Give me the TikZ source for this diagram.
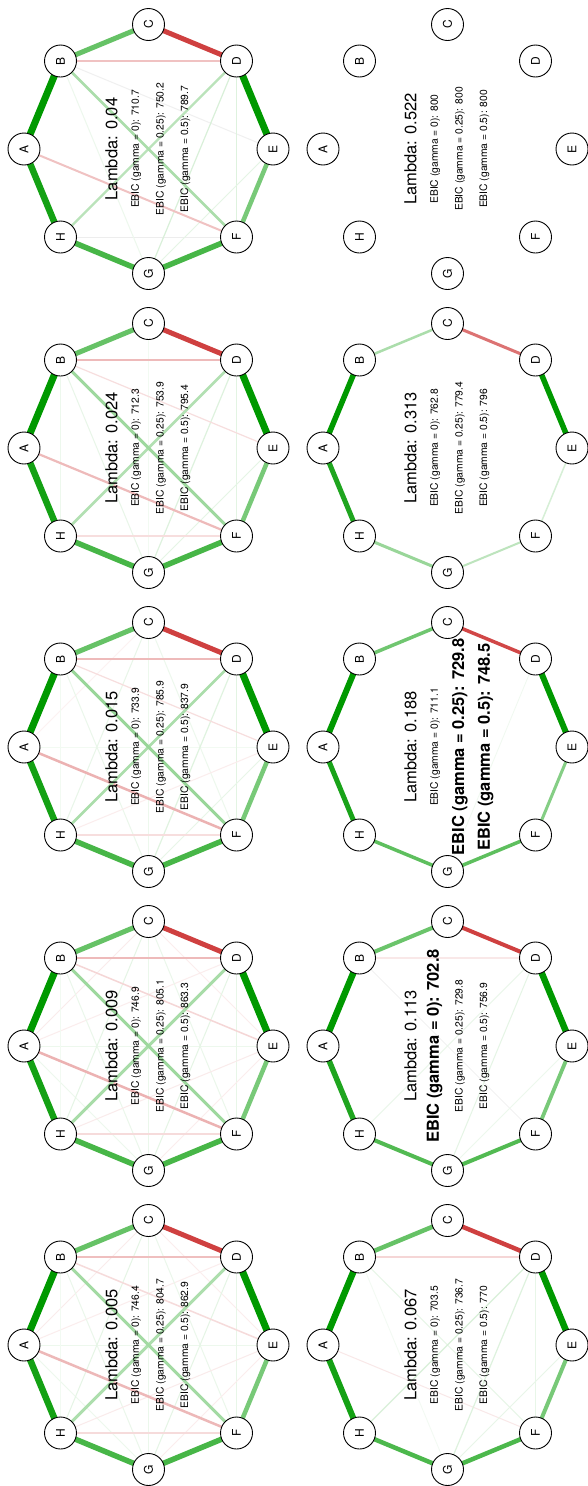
\documentclass[tikz,border=0pt]{standalone}
\usepackage{fontspec}
\setmainfont{TeX Gyre Heros}
\usetikzlibrary{backgrounds}
\definecolor{qg}{RGB}{0,153,0}
\definecolor{qr}{RGB}{191,0,0}
\pgfdeclarelayer{bgzero}
\pgfsetlayers{bgzero,background,main}
\tikzset{
 nd/.style={circle, draw=black, line width=0.9pt, fill=white, minimum size=32pt, inner sep=0pt, font=\fontsize{12}{12}\selectfont, rotate=90},
 lam/.style={rotate=90, inner sep=0pt, font=\fontsize{16.5}{18}\selectfont},
 ebic/.style={rotate=90, inner sep=0pt, font=\fontsize{10.3}{12}\selectfont},
 ebicb/.style={rotate=90, inner sep=0pt, font=\fontsize{16.5}{18}\selectfont\bfseries},
}
\newcommand\mknodes[3]{%
  \foreach \n/\dx/\dy in {A/-124.5/0,B/-88/-88,C/0/-124.5,D/88/-88,E/124.5/0,F/88/88,G/0/124.5,H/-88/88}
    \node[nd] (#1\n) at ({#2+\dx},{#3+\dy}) {\n};
}
\newcommand\mkedges[2]{%
  \begin{pgfonlayer}{background}
  \foreach \a/\b/\w/\c in {#2}
    \draw[line width=\w pt, draw=\c] (#1\a.center) -- (#1\b.center);
  \end{pgfonlayer}
}
\begin{document}
\begin{tikzpicture}[x=1pt,y=-1pt]
\begin{pgfonlayer}{bgzero}
\fill[white] (0,0) rectangle (587,1486);
\end{pgfonlayer}
\useasboundingbox (0,0) rectangle (587,1486);

% ---------- Panel 1: lambda 0.005
\mknodes{pa}{148.5}{1345}
\mkedges{pa}{A/C/1/qr!8, A/D/1/qr!7, A/E/1/qg!7, A/G/1/qg!7, B/G/1/qg!8, B/H/1/qg!5, C/E/1/qr!7, C/F/1/qg!8, C/G/1/qg!8, C/H/1/qg!10, D/F/1/qg!9, D/G/1/qg!10, E/G/1/qr!7, E/H/1/qr!8, F/H/1.5/qr!14, B/E/1.5/qr!14, B/D/2/qr!25, A/F/2.5/qr!28, D/H/3/qg!32, B/F/3/qg!36, B/C/5/qg!60, E/F/4.5/qg!53, F/G/5.5/qg!72, G/H/5.5/qg!72, C/D/5/qr!75, A/H/6.5/qg!92, A/B/7/qg, D/E/7/qg}
\node[lam] (pal) at (111.5,1345) {Lambda: 0.005};
\node[ebic] (pa0) at (136.2,1345) {EBIC (gamma = 0): 746.4};
\node[ebic] (pa1) at (160.8,1345) {EBIC (gamma = 0.25): 804.7};
\node[ebic] (pa2) at (185.5,1345) {EBIC (gamma = 0.5): 862.9};

% ---------- Panel 2: lambda 0.009
\mknodes{pb}{148.5}{1046}
\mkedges{pb}{A/C/1/qr!8, A/D/1/qr!7, A/E/1/qg!7, A/G/1/qg!7, B/G/1/qg!8, B/H/1/qg!5, C/E/1/qr!7, C/F/1/qg!8, C/G/1/qg!8, C/H/1/qg!10, D/F/1/qg!9, D/G/1/qg!10, E/G/1/qr!7, E/H/1/qr!8, F/H/1.5/qr!14, B/E/1.5/qr!16, B/D/2/qr!27, A/F/2.5/qr!30, D/H/3/qg!34, B/F/3/qg!38, B/C/5/qg!60, E/F/4.5/qg!53, F/G/5.5/qg!72, G/H/5.5/qg!72, C/D/5/qr!75, A/H/6.5/qg!92, A/B/7/qg, D/E/7/qg}
\node[lam] (pbl) at (111.5,1046) {Lambda: 0.009};
\node[ebic] (pb0) at (136.2,1046) {EBIC (gamma = 0): 746.9};
\node[ebic] (pb1) at (160.8,1046) {EBIC (gamma = 0.25): 805.1};
\node[ebic] (pb2) at (185.5,1046) {EBIC (gamma = 0.5): 863.3};

% ---------- Panel 3: lambda 0.015
\mknodes{pc}{148.5}{747}
\mkedges{pc}{A/C/1/qr!5, A/E/1/qg!5, B/G/1/qg!8, B/H/1/qg!5, C/F/1/qg!7, C/G/1/qg!7, C/H/1/qg!9, D/F/1.2/qg!11, D/G/1.2/qg!12, E/G/1/qg!9, E/H/1/qr!7, F/H/1.3/qr!13, B/E/1.2/qr!13, B/D/2/qr!27, A/F/2.5/qr!30, D/H/2.5/qg!33, B/F/3/qg!40, B/C/5/qg!60, E/F/4.5/qg!53, F/G/5.5/qg!72, G/H/5.5/qg!72, C/D/5/qr!75, A/H/6.5/qg!92, A/B/7/qg, D/E/7/qg}
\node[lam] (pcl) at (111.5,747) {Lambda: 0.015};
\node[ebic] (pc0) at (136.2,747) {EBIC (gamma = 0): 733.9};
\node[ebic] (pc1) at (160.8,747) {EBIC (gamma = 0.25): 785.9};
\node[ebic] (pc2) at (185.5,747) {EBIC (gamma = 0.5): 837.9};

% ---------- Panel 4: lambda 0.024
\mknodes{pd}{148.5}{448}
\mkedges{pd}{B/H/1/qg!7, B/G/1/qg!9, C/G/1/qg!5, D/F/1.2/qg!11, D/G/1.2/qg!13, E/G/1/qg!10, F/H/1.3/qr!13, B/E/1.2/qr!13, B/D/2.2/qr!27, A/F/2.2/qr!27, D/H/2.5/qg!30, B/F/3/qg!38, B/C/5/qg!60, E/F/4.5/qg!53, F/G/5.5/qg!72, G/H/5.5/qg!72, C/D/5/qr!75, A/H/6.5/qg!92, A/B/7/qg, D/E/7/qg}
\node[lam] (pdl) at (111.5,448) {Lambda: 0.024};
\node[ebic] (pd0) at (136.2,448) {EBIC (gamma = 0): 712.3};
\node[ebic] (pd1) at (160.8,448) {EBIC (gamma = 0.25): 753.9};
\node[ebic] (pd2) at (185.5,448) {EBIC (gamma = 0.5): 795.4};

% ---------- Panel 5: lambda 0.04
\mknodes{pe}{148.5}{149}
\mkedges{pe}{F/H/1/black!7, B/E/1/black!6, B/G/1/qg!7, D/F/1.2/qg!13, D/G/1.2/qg!15, E/G/1/qg!10, B/D/2/qr!24, A/F/2/qr!24, D/H/2.3/qg!27, B/F/2.5/qg!33, B/C/5/qg!60, E/F/4.5/qg!53, F/G/5.5/qg!72, G/H/5.5/qg!72, C/D/5/qr!75, A/H/6.5/qg!92, A/B/7/qg, D/E/7/qg}
\node[lam] (pel) at (111.5,149) {Lambda: 0.04};
\node[ebic] (pe0) at (136.2,149) {EBIC (gamma = 0): 710.7};
\node[ebic] (pe1) at (160.8,149) {EBIC (gamma = 0.25): 750.2};
\node[ebic] (pe2) at (185.5,149) {EBIC (gamma = 0.5): 789.7};

% ---------- Panel 6: lambda 0.067
\mknodes{pf}{447.5}{1345}
\mkedges{pf}{B/G/0.8/qg!5, A/F/1/qr!9, B/F/1/qg!10, D/F/1/qg!9, E/G/1/qg!9, D/G/1.2/qg!13, D/H/1.2/qg!15, B/D/1.5/qr!16, B/C/4.5/qg!60, E/F/4/qg!53, F/G/4.5/qg!70, G/H/4.5/qg!70, C/D/4.5/qr!75, A/H/6/qg!92, A/B/6.5/qg, D/E/6.5/qg}
\node[lam] (pfl) at (410.5,1345) {Lambda: 0.067};
\node[ebic] (pf0) at (435.2,1345) {EBIC (gamma = 0): 703.5};
\node[ebic] (pf1) at (459.8,1345) {EBIC (gamma = 0.25): 736.7};
\node[ebic] (pf2) at (484.5,1345) {EBIC (gamma = 0.5): 770};

% ---------- Panel 7: lambda 0.113
\mknodes{pg}{447.5}{1046}
\mkedges{pg}{B/F/0.6/black!8, E/G/0.8/qg!7, D/H/0.8/qg!9, D/G/1/qg!10, B/D/1.2/qr!9, B/C/4/qg!58, E/F/3.8/qg!53, F/G/4/qg!68, G/H/4/qg!68, C/D/4/qr!75, A/H/5.5/qg!88, A/B/6.5/qg, D/E/6.5/qg}
\node[lam] (pgl) at (410.5,1046) {Lambda: 0.113};
\node[ebicb] (pg0) at (434.5,1046) {EBIC (gamma = 0): 702.8};
\node[ebic] (pg1) at (459.8,1046) {EBIC (gamma = 0.25): 729.8};
\node[ebic] (pg2) at (484.5,1046) {EBIC (gamma = 0.5): 756.9};

% ---------- Panel 8: lambda 0.188
\mknodes{ph}{447.5}{747}
\mkedges{ph}{D/G/0.8/qg!6, B/C/3.5/qg!56, E/F/3/qg!48, F/G/3.5/qg!63, G/H/3.5/qg!63, C/D/3.5/qr!72, A/H/5/qg!90, A/B/6/qg, D/E/6/qg}
\node[lam] (phl) at (410.5,747) {Lambda: 0.188};
\node[ebic] (ph0) at (435.2,747) {EBIC (gamma = 0): 711.1};
\node[ebicb] (ph1) at (459.8,747) {EBIC (gamma = 0.25): 729.8};
\node[ebicb] (ph2) at (485.5,747) {EBIC (gamma = 0.5): 748.5};

% ---------- Panel 9: lambda 0.313
\mknodes{pi}{447.5}{448}
\mkedges{pi}{E/F/1.5/qg!16, F/G/2/qg!26, B/C/2.5/qg!33, G/H/3/qg!40, C/D/3/qr!55, A/H/5/qg!88, A/B/5.5/qg, D/E/5.5/qg}
\node[lam] (pil) at (410.5,448) {Lambda: 0.313};
\node[ebic] (pi0) at (435.2,448) {EBIC (gamma = 0): 762.8};
\node[ebic] (pi1) at (459.8,448) {EBIC (gamma = 0.25): 779.4};
\node[ebic] (pi2) at (484.5,448) {EBIC (gamma = 0.5): 796};

% ---------- Panel 10: lambda 0.522
\mknodes{pj}{447.5}{149}
\node[lam] (pjl) at (410.5,149) {Lambda: 0.522};
\node[ebic] (pj0) at (435.2,149) {EBIC (gamma = 0): 800};
\node[ebic] (pj1) at (459.8,149) {EBIC (gamma = 0.25): 800};
\node[ebic] (pj2) at (484.5,149) {EBIC (gamma = 0.5): 800};
\end{tikzpicture}
\end{document}
